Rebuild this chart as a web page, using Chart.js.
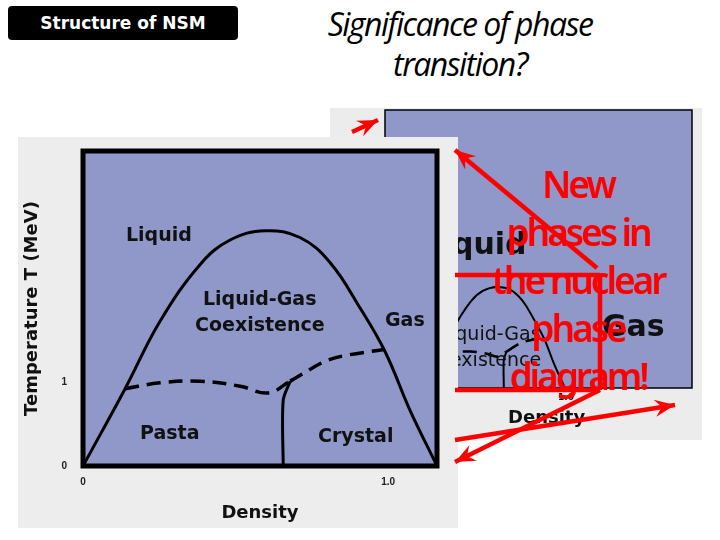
<!DOCTYPE html>
<html>
<head>
<meta charset="utf-8">
<script src="https://cdn.jsdelivr.net/npm/chart.js@4"></script>
<style>
  body { margin: 0; width: 720px; height: 540px; background: #fff; position: relative; overflow: hidden; font-family: "DejaVu Sans", sans-serif; }
  .abs { position: absolute; }
  #badge { left: 8px; top: 6px; width: 230px; height: 34px; background: #000; border-radius: 4px; color: #fff; font: bold 17px "DejaVu Sans"; line-height: 34px; text-align: center; }
  #title { left: 260px; top: 4px; width: 400px; text-align: center; font: italic 32px "Open Sans"; letter-spacing: -1.5px; line-height: 40px; color: #000; }
  #bgFrame { left: 330px; top: 108px; width: 372px; height: 332px; background: #ececec; z-index: 1; }
  #mainFrame { left: 18px; top: 137px; width: 440px; height: 391px; background: #ededed; z-index: 2; }
  .lbl { position: absolute; font-weight: bold; color: #111; white-space: nowrap; }
  #overlay { left: 0; top: 0; z-index: 3; pointer-events: none; }
  #redText { left: 450px; top: 160px; width: 256px; text-align: center; color: #f00; font: 600 37px "Noto Sans"; letter-spacing: -3px; line-height: 48px; z-index: 4; }
</style>
</head>
<body>
<div id="badge" class="abs">Structure of NSM</div>
<div id="title" class="abs">Significance of phase<br>transition?</div>

<div id="bgFrame" class="abs">
  <canvas id="bgChart" width="372" height="332"></canvas>
  <div class="lbl" style="left:122px;top:118px;font-size:30px">quid</div>
  <div class="lbl" style="left:272px;top:200px;font-size:30px">Gas</div>
  <div class="lbl" style="left:120px;top:214px;font-size:19px;font-weight:normal">iquid-Gas</div>
  <div class="lbl" style="left:120px;top:240px;font-size:19px;font-weight:normal">existence</div>
  <div class="lbl" style="left:228px;top:284px;font-size:9px">1.0</div>
  <div class="lbl" style="left:178px;top:298px;font-size:18px">Density</div>
</div>

<div id="mainFrame" class="abs">
  <canvas id="mainChart" width="440" height="391"></canvas>
  <div class="lbl" style="left:108px;top:86px;font-size:19px">Liquid</div>
  <div class="lbl" style="left:185px;top:150px;font-size:19px">Liquid-Gas</div>
  <div class="lbl" style="left:177px;top:176px;font-size:19px">Coexistence</div>
  <div class="lbl" style="left:367px;top:171px;font-size:19px">Gas</div>
  <div class="lbl" style="left:122px;top:284px;font-size:19px">Pasta</div>
  <div class="lbl" style="left:300px;top:287px;font-size:19px">Crystal</div>
</div>

<canvas id="overlay" class="abs" width="720" height="540"></canvas>
<div id="redText" class="abs">New<br>phases in<br>the nuclear<br>phase<br>diagram!</div>

<script>
// Fronteras del diagrama de fases (densidad, temperatura)
const domeDensity = [0, 0.138, 0.252, 0.384, 0.482, 0.597, 0.711, 0.81, 0.908, 0.99, 1.072, 1.16];
const domeTemp    = [0, 0.92, 1.72, 2.4, 2.69, 2.8, 2.72, 2.42, 1.88, 1.36, 0.66, 0];
const pastaDensity = [0.138, 0.252, 0.384, 0.515, 0.607, 0.679];
const pastaTemp    = [0.92, 0.99, 1.01, 0.95, 0.87, 1.01];
const gasDensity = [0.679, 0.81, 0.99];
const gasTemp    = [1.01, 1.27, 1.39];
const crystalDensity = [0.679, 0.656, 0.656];
const crystalTemp    = [1.01, 0.78, 0];
const xTicks = [0, 1.0];
const yTicks = [0, 1];
const xTickLabels = ['0', '1.0'];
const yTickLabels = ['0', '1'];

// Flechas rojas en coordenadas de la diapositiva
const arrows = [
  { x: [352, 378], y: [132, 120], head: true },
  { x: [597, 455], y: [268, 150], head: true },
  { x: [455, 600], y: [275, 275], head: false },
  { x: [600, 600], y: [275, 390], head: false },
  { x: [455, 600], y: [390, 390], head: false },
  { x: [600, 455], y: [390, 462], head: true },
  { x: [455, 675], y: [440, 405], head: true }
];

const pts = (xs, ys) => xs.map((x, i) => ({ x, y: ys[i] }));

function boundaryDatasets(width) {
  return [
    { data: pts(domeDensity, domeTemp), borderColor: '#000', borderWidth: width, tension: 0.4, pointRadius: 0 },
    { data: pts(pastaDensity, pastaTemp), borderColor: '#000', borderWidth: width + 0.5, borderDash: [14, 8], tension: 0.4, pointRadius: 0 },
    { data: pts(gasDensity, gasTemp), borderColor: '#000', borderWidth: width + 0.5, borderDash: [14, 8], tension: 0.3, pointRadius: 0 },
    { data: pts(crystalDensity, crystalTemp), borderColor: '#000', borderWidth: width, tension: 0.3, pointRadius: 0 }
  ];
}

const plotBg = {
  id: 'plotBg',
  beforeDraw(chart, args, opts) {
    const { ctx, chartArea: a } = chart;
    ctx.save();
    ctx.fillStyle = opts.fill;
    ctx.fillRect(a.left, a.top, a.right - a.left, a.bottom - a.top);
    ctx.restore();
  },
  afterDraw(chart, args, opts) {
    const { ctx, chartArea: a } = chart;
    ctx.save();
    ctx.strokeStyle = '#000';
    ctx.lineWidth = opts.border;
    ctx.strokeRect(a.left, a.top, a.right - a.left, a.bottom - a.top);
    ctx.restore();
  }
};

new Chart(document.getElementById('mainChart'), {
  type: 'line',
  data: { datasets: boundaryDatasets(3) },
  plugins: [plotBg],
  options: {
    responsive: false, animation: false,
    layout: { padding: { top: 10, right: 21, left: 0, bottom: 0 } },
    plugins: { legend: { display: false }, tooltip: { enabled: false }, plotBg: { fill: '#8f98c8', border: 5 } },
    scales: {
      x: {
        type: 'linear', min: 0, max: 1.16,
        afterBuildTicks: s => { s.ticks = xTicks.map(v => ({ value: v })); },
        afterFit: s => { s.height = 62; },
        grid: { display: false }, border: { display: false },
        ticks: { callback: (v) => xTickLabels[xTicks.indexOf(v)], font: { size: 10, weight: 'bold' }, color: '#222', maxRotation: 0, padding: 2 },
        title: { display: true, text: 'Density', font: { family: 'DejaVu Sans', size: 18, weight: 'bold' }, color: '#111', padding: { top: 0 } }
      },
      y: {
        type: 'linear', min: 0, max: 3.75,
        afterBuildTicks: s => { s.ticks = yTicks.map(v => ({ value: v })); },
        afterFit: s => { s.width = 65; },
        grid: { display: false }, border: { display: false },
        ticks: { callback: (v) => yTickLabels[yTicks.indexOf(v)], font: { size: 10, weight: 'bold' }, color: '#222', padding: 8 },
        title: { display: true, text: 'Temperature T (MeV)', font: { family: 'DejaVu Sans', size: 18, weight: 'bold' }, color: '#111', padding: { bottom: 10 } }
      }
    }
  }
});

new Chart(document.getElementById('bgChart'), {
  type: 'line',
  data: { datasets: boundaryDatasets(2) },
  plugins: [plotBg],
  options: {
    responsive: false, animation: false,
    layout: { padding: { top: 2, right: 10, left: 55, bottom: 52 } },
    plugins: { legend: { display: false }, tooltip: { enabled: false }, plotBg: { fill: '#8f98c8', border: 1.5 } },
    scales: {
      x: { type: 'linear', min: -0.325, max: 2.21, display: false },
      y: { type: 'linear', min: 0, max: 7.7, display: false }
    }
  }
});

const arrowHeads = {
  id: 'arrowHeads',
  afterDatasetsDraw(chart) {
    const { ctx } = chart;
    const sx = chart.scales.x, sy = chart.scales.y;
    arrows.forEach(a => {
      if (!a.head) return;
      const x0 = sx.getPixelForValue(a.x[0]), y0 = sy.getPixelForValue(a.y[0]);
      const x1 = sx.getPixelForValue(a.x[1]), y1 = sy.getPixelForValue(a.y[1]);
      const ang = Math.atan2(y1 - y0, x1 - x0);
      const L = 22, W = 0.4;
      ctx.save();
      ctx.fillStyle = '#f00';
      ctx.beginPath();
      ctx.moveTo(x1, y1);
      ctx.lineTo(x1 - L * Math.cos(ang - W), y1 - L * Math.sin(ang - W));
      ctx.lineTo(x1 - L * 0.6 * Math.cos(ang), y1 - L * 0.6 * Math.sin(ang));
      ctx.lineTo(x1 - L * Math.cos(ang + W), y1 - L * Math.sin(ang + W));
      ctx.closePath();
      ctx.fill();
      ctx.restore();
    });
  }
};

new Chart(document.getElementById('overlay'), {
  type: 'line',
  data: {
    datasets: arrows.map(a => ({ data: pts(a.x, a.y), borderColor: '#f00', borderWidth: 4.5, pointRadius: 0 }))
  },
  plugins: [arrowHeads],
  options: {
    responsive: false, animation: false,
    layout: { padding: 0 },
    plugins: { legend: { display: false }, tooltip: { enabled: false } },
    scales: {
      x: { type: 'linear', min: 0, max: 720, display: false },
      y: { type: 'linear', min: 0, max: 540, reverse: true, display: false }
    }
  }
});
</script>
</body>
</html>
